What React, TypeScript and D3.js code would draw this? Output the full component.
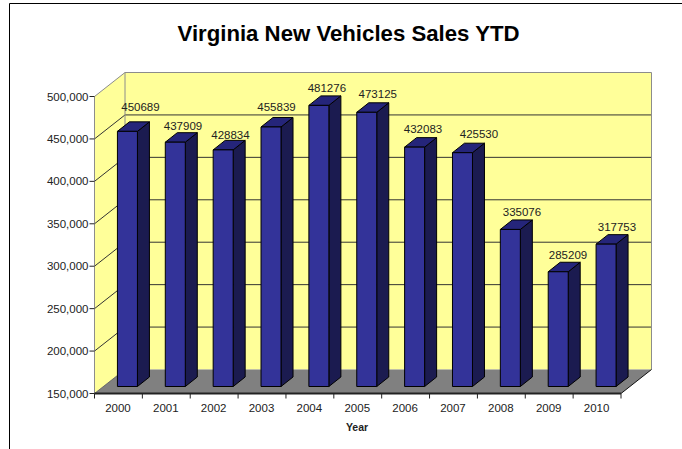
import React from "react";
import * as d3 from "d3";

const years = ["2000","2001","2002","2003","2004","2005","2006","2007","2008","2009","2010"];
const sales = [450689,437909,428834,455839,481276,473125,432083,425530,335076,285209,317753];
const yTicks = [150000,200000,250000,300000,350000,400000,450000,500000];

// label placement relative to each bar's front-top centre
const labelShiftX = [13,7.7,7.3,5.5,8,11,8.4,16.5,11.6,9.8,10.9];
const labelRise = [24.3,16.2,14.9,20,17.5,18.3,18.1,18.7,17.4,16.7,17];

const font = "'Liberation Sans', Arial, sans-serif";
const DX = 30.5, DY = -24;
const BDX = 9, BDY = -7, SDX = 12, SDY = -9.5;
const x = d3.scaleBand<string>().domain(years).range([94.5, 621]);
const y = d3.scaleLinear().domain([150000, 500000]).range([393.5, 96.5]);
const fmt = d3.format(",");
const barW = 20;

export default function App() {
  const x0 = x.range()[0], x1 = x.range()[1];
  const yb = y(150000), yt = y(500000);
  return (
    <svg width={682} height={449} style={{ position: "absolute", left: 0, top: 0, background: "#fff" }} fontFamily={font}>
      <path d="M9.5,449V3.5H682" fill="none" stroke="#000" strokeWidth={1} />
      <text x={348.5} y={41} textAnchor="middle" fontSize={22.2} fontWeight="bold" fill="#000">Virginia New Vehicles Sales YTD</text>

      <polygon points={`${x0+DX},${yt+DY} ${x1+DX},${yt+DY} ${x1+DX},${yb+DY} ${x0+DX},${yb+DY}`} fill="#ffff99" />
      <polygon points={`${x0},${yt} ${x0+DX},${yt+DY} ${x0+DX},${yb+DY} ${x0},${yb}`} fill="#ffff99" />
      <polygon points={`${x0},${yb} ${x1},${yb} ${x1+DX},${yb+DY} ${x0+DX},${yb+DY}`} fill="#808080" />

      {yTicks.slice(1, -1).map(t => (
        <path key={t} d={`M${x0},${y(t)}L${x0+DX},${y(t)+DY}H${x1+DX}`} fill="none" stroke="#333" strokeWidth={1} />
      ))}
      <path d={`M${x0},${yb}V${yt}L${x0+DX},${yt+DY}H${x1+DX}V${yb+DY}`} fill="none" stroke="#8c8c8c" strokeWidth={1} />
      <path d={`M${x0+DX},${yt+DY}V${yb+DY}`} fill="none" stroke="#8c8c8c" strokeWidth={1} />
      <path d={`M${x0},${yb}L${x0+DX},${yb+DY}`} stroke="#555" strokeWidth={0.8} fill="none" />
      <path d={`M${x1},${yb}L${x1+DX},${yb+DY}`} stroke="#111" strokeWidth={1} fill="none" />

      {years.map((yr, i) => {
        const cx = x(yr)! + x.bandwidth() / 2 + BDX;
        const l = cx - barW / 2, r = cx + barW / 2;
        const base = yb + BDY;
        const top = base - (yb - y(sales[i]));
        return (
          <g key={yr} stroke="#000" strokeWidth={1} strokeLinejoin="round">
            <polygon points={`${r},${top} ${r+SDX},${top+SDY} ${r+SDX},${base+SDY} ${r},${base}`} fill="#1b1b50" />
            <polygon points={`${l},${top} ${l+SDX},${top+SDY} ${r+SDX},${top+SDY} ${r},${top}`} fill="#25257a" />
            <rect x={l} y={top} width={barW} height={base - top} fill="#333399" />
          </g>
        );
      })}

      {years.map((yr, i) => {
        const cx = x(yr)! + x.bandwidth() / 2 + BDX;
        const top = yb + BDY - (yb - y(sales[i]));
        return <text key={yr} x={cx + labelShiftX[i]} y={top - labelRise[i] + 4} textAnchor="middle" fontSize={11.5} fill="#222">{sales[i]}</text>;
      })}

      <path d={`M${x0},${yb}H${x1}`} stroke="#222" strokeWidth={2} fill="none" />
      {yTicks.map(t => (
        <g key={t}>
          <path d={`M${x0-5},${y(t)}H${x0}`} stroke="#222" strokeWidth={1} />
          <text x={x0-6} y={y(t)+4} textAnchor="end" fontSize={11.5} fill="#222">{fmt(t)}</text>
        </g>
      ))}
      {[...years.map(d => x(d)!), x1].map((p, i) => (
        <path key={i} d={`M${p},${yb}V${yb+5}`} stroke="#222" strokeWidth={1} />
      ))}
      {years.map(yr => (
        <text key={yr} x={x(yr)! + x.bandwidth()/2 - 0.5} y={412} textAnchor="middle" fontSize={11.5} fill="#222">{yr}</text>
      ))}
      <text x={357} y={431} textAnchor="middle" fontSize={10.5} fontWeight="bold" fill="#222">Year</text>
    </svg>
  );
}
